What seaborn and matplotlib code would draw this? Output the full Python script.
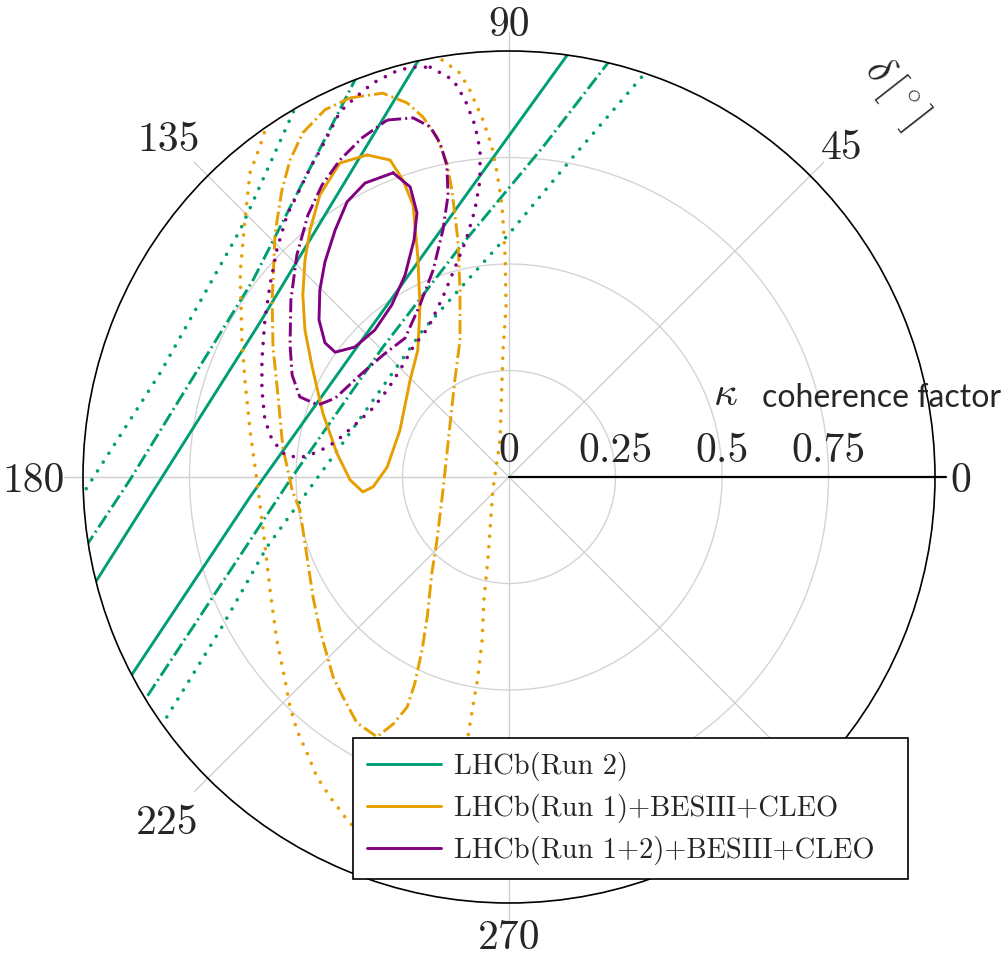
import numpy as np
import matplotlib
matplotlib.use("Agg")
import matplotlib.pyplot as plt
import seaborn as sns
from matplotlib.lines import Line2D
from matplotlib.transforms import offset_copy

# ---------------------------------------------------------------- data
# Contours in the complex plane of the coherence factor:
# each point is (kappa*cos(delta), kappa*sin(delta)).
series_names = ["LHCb(Run 2)", "LHCb(Run 1)+BESIII+CLEO", "LHCb(Run 1+2)+BESIII+CLEO"]
series_colors = ["#009E73", "#E69F00", "#800080"]

# LHCb(Run 2): straight band boundaries (1, 2, 3 sigma)
run2_1s_left = [(-0.206, 0.989), (-0.585, 0.362), (-0.977, -0.257)]
run2_1s_right = [(0.140, 0.995), (-0.092, 0.674), (-0.357, 0.305), (-0.608, -0.047), (-0.890, -0.471)]
run2_2s_left = [(-0.355, 0.945), (-0.601, 0.462), (-0.890, -0.007), (-0.995, -0.166)]
run2_2s_right = [(0.240, 0.982), (0.080, 0.775), (-0.115, 0.540), (-0.296, 0.305), (-0.514, -0.007), (-0.858, -0.528)]
run2_3s_left = [(-0.496, 0.880), (-0.631, 0.580), (-0.819, 0.244), (-1.005, -0.047)]
run2_3s_right = [(0.327, 0.957), (0.150, 0.751), (0.002, 0.573), (-0.202, 0.345), (-0.390, 0.080),
                 (-0.568, -0.164), (-0.678, -0.359), (-0.819, -0.589)]

# LHCb(Run 1)+BESIII+CLEO
run1_1s = [(-0.333, 0.756), (-0.279, 0.744), (-0.249, 0.697), (-0.225, 0.638), (-0.214, 0.516),
           (-0.209, 0.399), (-0.214, 0.298), (-0.232, 0.228), (-0.256, 0.110), (-0.286, 0.023),
           (-0.319, -0.023), (-0.343, -0.035), (-0.373, -0.007), (-0.404, 0.056), (-0.437, 0.150),
           (-0.462, 0.258), (-0.479, 0.345), (-0.484, 0.427), (-0.479, 0.509), (-0.467, 0.580),
           (-0.444, 0.662), (-0.397, 0.737), (-0.333, 0.756)]
run1_2s = [(-0.373, 0.890), (-0.296, 0.901), (-0.239, 0.878), (-0.202, 0.845), (-0.169, 0.798),
           (-0.146, 0.737), (-0.134, 0.674), (-0.120, 0.556), (-0.115, 0.439), (-0.115, 0.322),
           (-0.127, 0.228), (-0.138, 0.127), (-0.155, -0.031), (-0.169, -0.148), (-0.181, -0.225),
           (-0.192, -0.329), (-0.204, -0.406), (-0.221, -0.484), (-0.239, -0.540), (-0.272, -0.580),
           (-0.310, -0.610), (-0.357, -0.577), (-0.390, -0.516), (-0.413, -0.469), (-0.444, -0.359),
           (-0.460, -0.282), (-0.474, -0.188), (-0.491, -0.077), (-0.509, -0.031), (-0.531, 0.070),
           (-0.542, 0.188), (-0.554, 0.305), (-0.556, 0.415), (-0.549, 0.573), (-0.533, 0.674),
           (-0.514, 0.744), (-0.484, 0.808), (-0.432, 0.862), (-0.373, 0.890)]
run1_3s = [(-0.157, 0.979), (-0.115, 0.948), (-0.092, 0.908), (-0.061, 0.838), (-0.040, 0.775),
           (-0.028, 0.714), (-0.016, 0.634), (-0.009, 0.516), (-0.007, 0.399), (-0.014, 0.298),
           (-0.021, 0.087), (-0.038, -0.031), (-0.049, -0.188), (-0.059, -0.289), (-0.063, -0.383),
           (-0.073, -0.469), (-0.085, -0.540), (-0.094, -0.594), (-0.110, -0.711), (-0.150, -0.829),
           (-0.232, -0.904), (-0.315, -0.887), (-0.338, -0.852), (-0.385, -0.798), (-0.420, -0.751),
           (-0.451, -0.704), (-0.474, -0.648), (-0.498, -0.594), (-0.514, -0.540), (-0.528, -0.465),
           (-0.545, -0.383), (-0.561, -0.265), (-0.577, -0.124), (-0.592, -0.007), (-0.608, 0.110),
           (-0.620, 0.228), (-0.627, 0.322), (-0.631, 0.479), (-0.620, 0.603), (-0.608, 0.714),
           (-0.585, 0.775), (-0.570, 0.822), (-0.491, 0.979), (-0.373, 1.049), (-0.256, 1.045),
           (-0.157, 0.979)]

# LHCb(Run 1+2)+BESIII+CLEO
run12_1s = [(-0.272, 0.714), (-0.232, 0.681), (-0.216, 0.620), (-0.223, 0.556), (-0.244, 0.474),
            (-0.275, 0.404), (-0.315, 0.345), (-0.362, 0.305), (-0.408, 0.293), (-0.432, 0.315),
            (-0.446, 0.369), (-0.444, 0.439), (-0.432, 0.505), (-0.408, 0.580), (-0.380, 0.646),
            (-0.338, 0.690), (-0.272, 0.714)]
run12_2s = [(-0.286, 0.838), (-0.225, 0.843), (-0.185, 0.822), (-0.162, 0.784), (-0.146, 0.732),
            (-0.143, 0.662), (-0.155, 0.580), (-0.178, 0.486), (-0.209, 0.404), (-0.244, 0.326),
            (-0.296, 0.286), (-0.350, 0.239), (-0.408, 0.185), (-0.448, 0.169), (-0.491, 0.188),
            (-0.509, 0.239), (-0.514, 0.310), (-0.512, 0.415), (-0.498, 0.521), (-0.472, 0.615),
            (-0.439, 0.685), (-0.397, 0.744), (-0.345, 0.796), (-0.286, 0.838)]
run12_3s = [(-0.185, 0.962), (-0.131, 0.932), (-0.103, 0.885), (-0.080, 0.826), (-0.068, 0.768),
            (-0.068, 0.697), (-0.080, 0.627), (-0.101, 0.556), (-0.127, 0.491), (-0.155, 0.423),
            (-0.190, 0.350), (-0.225, 0.305), (-0.256, 0.251), (-0.286, 0.204), (-0.319, 0.162),
            (-0.362, 0.122), (-0.408, 0.082), (-0.448, 0.059), (-0.491, 0.045), (-0.526, 0.052),
            (-0.556, 0.087), (-0.573, 0.134), (-0.580, 0.204), (-0.580, 0.275), (-0.573, 0.369),
            (-0.561, 0.451), (-0.545, 0.533), (-0.521, 0.615), (-0.495, 0.667), (-0.467, 0.725),
            (-0.439, 0.775), (-0.397, 0.857), (-0.362, 0.890), (-0.319, 0.925), (-0.268, 0.951),
            (-0.232, 0.962), (-0.185, 0.962)]

contours = [
    (0, "1s", run2_1s_left), (0, "1s", run2_1s_right),
    (0, "2s", run2_2s_left), (0, "2s", run2_2s_right),
    (0, "3s", run2_3s_left), (0, "3s", run2_3s_right),
    (1, "1s", run1_1s), (1, "2s", run1_2s), (1, "3s", run1_3s),
    (2, "1s", run12_1s), (2, "2s", run12_2s), (2, "3s", run12_3s),
]

radial_ticks = [0.0, 0.25, 0.5, 0.75]
radial_ticklabels = ["0", "0.25", "0.5", "0.75"]
spoke_angles = [45, 90, 135, 180, 225, 270, 315]
angle_labels = [0, 45, 90, 135, 180, 225, 270]

# ---------------------------------------------------------------- style
sns.set_style("white")
plt.rcParams["font.family"] = ["cmr10", "DejaVu Serif"]
plt.rcParams["mathtext.fontset"] = "cm"
plt.rcParams["axes.unicode_minus"] = False
plt.rcParams["axes.formatter.use_mathtext"] = True

LW = 2.1
level_styles = {
    "1s": dict(linestyle="-", dash_capstyle="butt", solid_joinstyle="round", linewidth=LW),
    "2s": dict(linestyle=(0, (4.8, 1.4, 0.7, 1.4)), dash_capstyle="butt", linewidth=LW),
    "3s": dict(linestyle=(0, (0.01, 2.9)), dash_capstyle="round", linewidth=2.6),
}
# label radius (in kappa units) for each angle label
angle_label_r = {0: 1.06, 45: 1.105, 90: 1.07, 135: 1.13, 180: 1.115, 225: 1.135, 270: 1.073}

W, H = 1007, 955
fig = plt.figure(figsize=(W / 100, H / 100), dpi=100)
ax = fig.add_axes([83 / W, (H - 903) / H, 852 / W, 852 / H], projection="polar")

for idx, level, pts in contours:
    xy = np.asarray(pts, dtype=float)
    delta = np.arctan2(xy[:, 1], xy[:, 0])
    kappa = np.hypot(xy[:, 0], xy[:, 1])
    sns.lineplot(x=delta, y=kappa, ax=ax, sort=False, estimator=None,
                 color=series_colors[idx], legend=False, zorder=2.2,
                 **level_styles[level])

ax.set_ylim(0, 1)
ax.set_xticks([])
ax.set_yticks([0.25, 0.5, 0.75], labels=["", "", ""])
ax.yaxis.grid(True, color="#d4d4d4", linewidth=1.0)
ax.xaxis.grid(False)
ax.spines["polar"].set_color("black")
ax.spines["polar"].set_linewidth(1.2)
ax.set_xlabel("")
ax.set_ylabel("")

# spokes (extend slightly outside the frame like tick marks)
for deg in spoke_angles:
    th = np.deg2rad(deg)
    ax.plot([th, th], [0, 1.045], color="#d0d0d0", lw=1.0, clip_on=False, zorder=1)
ax.plot([0, 0], [0, 1.025], color="black", lw=1.6, clip_on=False, zorder=3)

# angle labels
for deg in angle_labels:
    ax.text(np.deg2rad(deg), angle_label_r[deg], str(deg), ha="center", va="center_baseline",
            fontsize=30, clip_on=False, zorder=3)

# radial labels along the 0 degree axis
trans = offset_copy(ax.transData, fig=fig, x=0, y=11, units="points")
for r, lab in zip(radial_ticks, radial_ticklabels):
    ax.text(0, r, lab, transform=trans, ha="center", va="baseline", fontsize=30, zorder=3)

# axis titles
fig.text(713 / W, 1 - 405 / H, r"$\kappa$", fontsize=30, ha="left", va="baseline")
fig.text(762 / W, 1 - 407 / H, "coherence factor", fontsize=23, ha="left", va="baseline",
         family=["Lato", "DejaVu Sans"])
fig.text(895 / W, 1 - 92 / H, r"$\delta\,[^\circ]$", fontsize=30, ha="center", va="center",
         rotation=-52, rotation_mode="anchor")

# legend
handles = [Line2D([], [], color=c, lw=LW) for c in series_colors]
leg = ax.legend(handles, series_names, loc="upper left",
                bbox_to_anchor=(353 / W, 1 - 877 / H, (908 - 353) / W, 139 / H),
                bbox_transform=fig.transFigure, mode="expand", borderaxespad=0,
                fontsize=20.5, handlelength=2.6, handletextpad=0.45, borderpad=0.5,
                labelspacing=0.45, fancybox=False, framealpha=1, edgecolor="black")
leg.get_frame().set_linewidth(1.2)
leg.set_zorder(10)

fig.savefig("out.png", dpi=100, facecolor="white")
